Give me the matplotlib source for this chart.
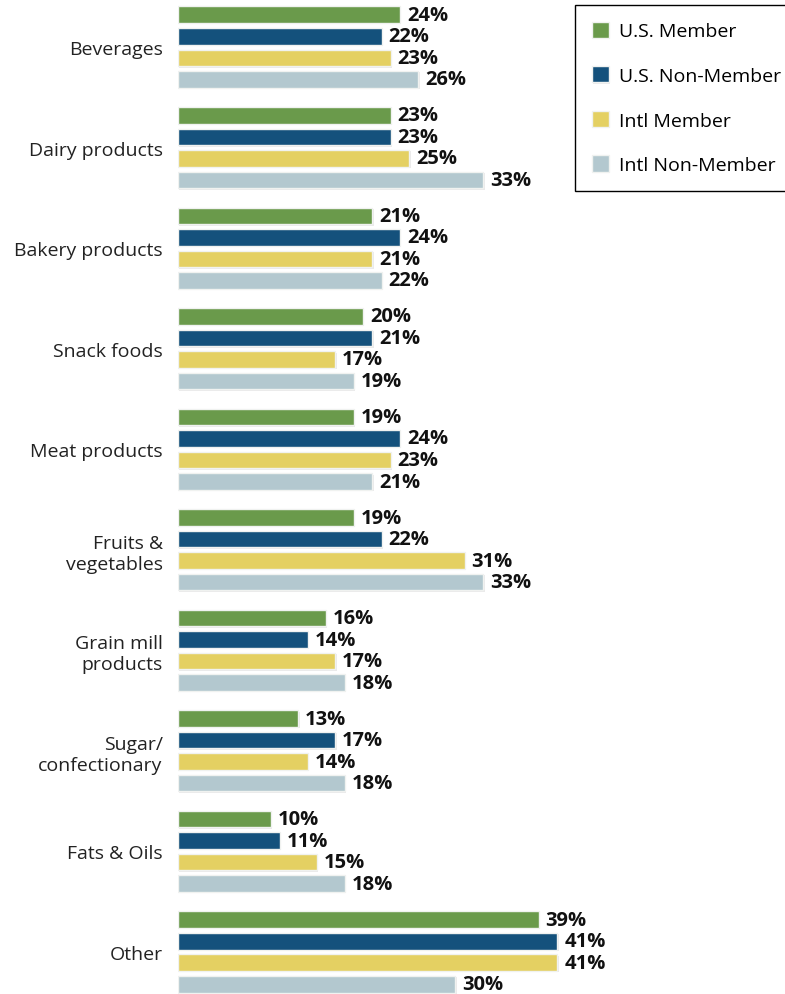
import numpy as np
import matplotlib
matplotlib.use('Agg')
import matplotlib.pyplot as plt
import matplotlib.patheffects as pe

categories = ['Beverages', 'Dairy products', 'Bakery products', 'Snack foods',
              'Meat products', 'Fruits &\nvegetables', 'Grain mill\nproducts',
              'Sugar/\nconfectionary', 'Fats & Oils', 'Other']
us_member = [24, 23, 21, 20, 19, 19, 16, 13, 10, 39]
us_non_member = [22, 23, 24, 21, 24, 22, 14, 17, 11, 41]
intl_member = [23, 25, 21, 17, 23, 31, 17, 14, 15, 41]
intl_non_member = [26, 33, 22, 19, 21, 33, 18, 18, 18, 30]

series = [('U.S. Member', us_member, '#6a9a4b'),
          ('U.S. Non-Member', us_non_member, '#14517c'),
          ('Intl Member', intl_member, '#e4d062'),
          ('Intl Non-Member', intl_non_member, '#b3c8cf')]

plt.rcParams['font.family'] = ['Open Sans', 'DejaVu Sans']

fig = plt.figure(figsize=(7.85, 9.95), dpi=100)
ax = fig.add_axes([178 / 785, 0, 1 - 178 / 785, 1])

y = np.arange(len(categories))
pitch = 0.214
h = 0.165
shadow = [pe.SimplePatchShadow(offset=(1.0, -1.0), shadow_rgbFace='#e2e2e2', alpha=0.7), pe.Normal()]

for i, (name, vals, col) in enumerate(series):
    pos = y + (i - 1.5) * pitch
    bars = ax.barh(pos, vals, height=h, color=col, edgecolor='#f0f2f0', linewidth=1.0,
                   label=name, path_effects=shadow)
    for b, v in zip(bars, vals):
        ax.text(v + 0.75, b.get_y() + b.get_height() / 2, f'{v}%',
                ha='left', va='center', fontsize=14.5, fontweight='bold', color='#111111')

ax.set_xlim(0, 607 / 9.25)
ax.set_ylim(9.418, -0.478)
ax.set_yticks(y)
ax.set_yticklabels(categories, fontsize=14, color='#222222')
ax.tick_params(axis='y', length=0, pad=11)
ax.set_xticks([])
for s in ax.spines.values():
    s.set_visible(False)

leg = fig.legend(loc='upper left', bbox_to_anchor=(575 / 785, 1 - 6 / 995), fontsize=14,
                 handlelength=0.9, handleheight=0.9, labelspacing=1.33, handletextpad=0.5,
                 borderpad=0.85, borderaxespad=0, fancybox=False, framealpha=1, edgecolor='black')
leg.get_frame().set_linewidth(1.0)

fig.savefig('out.png', dpi=100)
